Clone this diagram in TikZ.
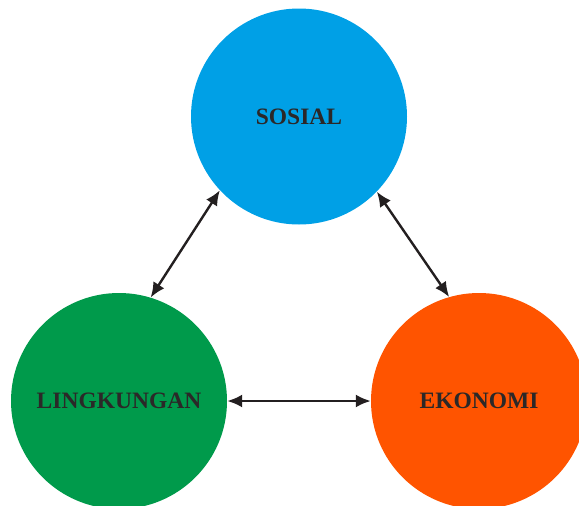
\documentclass[tikz,border=0pt]{standalone}
\usepackage{fontspec}
\setmainfont{Liberation Serif}
\usetikzlibrary{arrows.meta}
\definecolor{cblue}{HTML}{00A0E6}
\definecolor{cgreen}{HTML}{009A4B}
\definecolor{corange}{HTML}{FF5400}
\definecolor{cdark}{HTML}{2B2828}
\definecolor{carrow}{HTML}{231F20}
\begin{document}
\begin{tikzpicture}[x=1pt,y=-1pt,
  bubble/.style={circle,minimum size=216pt,inner sep=0pt,text=cdark,
    font=\fontsize{23.5}{26}\selectfont\bfseries},
  link/.style={draw=carrow,line width=2.4pt,{Latex[length=15pt,width=13pt]}-{Latex[length=15pt,width=13pt]}}]
\useasboundingbox (0,0) rectangle (579,506);
\begin{scope}
\clip (0,0) rectangle (579,506);
\node[bubble,fill=cblue] (soc) at (299,116.5) {SOSIAL};
\node[bubble,fill=cgreen] (env) at (119,401) {LINGKUNGAN};
\node[bubble,fill=corange] (eco) at (479,401) {EKONOMI};
\end{scope}
\draw[link] (soc.223.7) -- (env.73.4);
\draw[link] (soc.316.3) -- (eco.106.6);
\draw[link] (env.east) -- (eco.west);
\end{tikzpicture}
\end{document}
